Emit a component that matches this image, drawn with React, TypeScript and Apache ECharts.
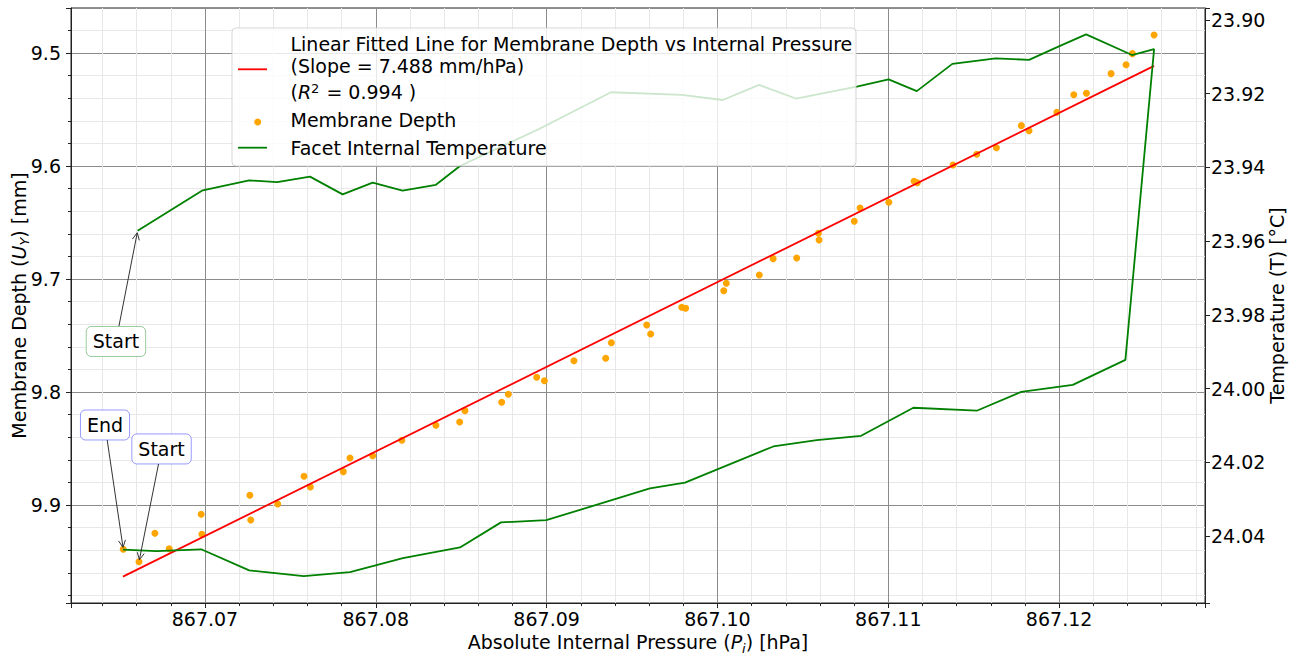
import React, { useEffect, useRef } from "react";
import * as echarts from "echarts";

// ---- Data ----
// Membrane depth scatter (pressure [hPa], depth [mm])
const depthPressure = [
  867.06522, 867.06614, 867.06707, 867.06791, 867.06978, 867.06982, 867.07263, 867.07268,
  867.07426, 867.0758, 867.07617, 867.0781, 867.07849, 867.07982, 867.08153, 867.08352,
  867.08491, 867.08522, 867.08737, 867.08776, 867.08942, 867.08987, 867.0916, 867.09346,
  867.09379, 867.09586, 867.09609, 867.09791, 867.09814, 867.10037, 867.10052, 867.10245,
  867.10326, 867.10464, 867.10591, 867.10595, 867.10801, 867.10835, 867.11003, 867.11151,
  867.1117, 867.11379, 867.11518, 867.11633, 867.11779, 867.11824, 867.11987, 867.12086,
  867.1216, 867.12304, 867.12392, 867.12429, 867.12556,
];
const depthValues = [
  9.9392, 9.9502, 9.925, 9.9387, 9.9082, 9.9259, 9.8914, 9.9133,
  9.8991, 9.8746, 9.8841, 9.8705, 9.8584, 9.8564, 9.8427, 9.8295,
  9.8265, 9.8165, 9.8091, 9.802, 9.787, 9.79, 9.7723, 9.7702,
  9.7564, 9.7407, 9.7487, 9.725, 9.7259, 9.7104, 9.7038, 9.6965,
  9.682, 9.6814, 9.6596, 9.6655, 9.6489, 9.6372, 9.6321, 9.6135,
  9.6148, 9.5991, 9.5896, 9.5838, 9.5643, 9.5688, 9.5525, 9.5369,
  9.5357, 9.5183, 9.5104, 9.5006, 9.4841,
];
const depthEndIndex = 0;
const depthStartIndex = 1;

// Linear fit end points
const fitPressure = [867.0652, 867.12556];
const fitDepth = [9.9634, 9.5114];

// Facet internal temperature (in time order)
const tempPressure = [
  867.06606, 867.06987, 867.07259, 867.07423, 867.07615, 867.07806, 867.07982, 867.08157,
  867.08352, 867.08493, 867.0895, 867.09377, 867.09791, 867.10031, 867.10244, 867.1046,
  867.10816, 867.11002, 867.11167, 867.11375, 867.11629, 867.11824, 867.12002, 867.12158,
  867.12427, 867.12556,
  867.12388, 867.1208, 867.11778, 867.11518, 867.11147, 867.10841, 867.10581, 867.10327,
  867.0981, 867.09605, 867.08998, 867.08733, 867.08493, 867.08159, 867.07849, 867.07578,
  867.07259, 867.06978, 867.06717, 867.0652,
];
const tempValues = [
  23.9572, 23.9462, 23.9435, 23.944, 23.9425, 23.9473, 23.9441, 23.9463,
  23.9447, 23.9396, 23.9297, 23.9196, 23.9203, 23.9217, 23.9176, 23.9213,
  23.9181, 23.9161, 23.9193, 23.9119, 23.9104, 23.9108, 23.9071, 23.9039,
  23.9095, 23.9079,
  23.9922, 23.999, 24.0009, 24.006, 24.0052, 24.0128, 24.014, 24.0157,
  24.0255, 24.0271, 24.0357, 24.0363, 24.0431, 24.046, 24.0498, 24.0509,
  24.0493, 24.0436, 24.0441, 24.0437,
];

const legendLines = [
  "Linear Fitted Line for Membrane Depth vs Internal Pressure",
  "(Slope = 7.488 mm/hPa)",
];
const legendR2 = "0.994";

const FONT = "DejaVu Sans";
const FS = 19;

function isMultiple(v: number, step: number) {
  const r = v / step;
  return Math.abs(r - Math.round(r)) < 1e-6;
}

function measure(text: string, size: number) {
  const c = document.createElement("canvas").getContext("2d")!;
  c.font = `${size}px "${FONT}"`;
  return c.measureText(text).width;
}

export default function App() {
  const ref = useRef<HTMLDivElement>(null);

  useEffect(() => {
    const chart = echarts.init(ref.current!, null, { renderer: "svg" });
    const scatterData = depthPressure.map((p, i) => [p, depthValues[i]]);
    const fitData = fitPressure.map((p, i) => [p, fitDepth[i]]);
    const tempData = tempPressure.map((p, i) => [p, tempValues[i]]);

    const labelBase = { fontFamily: FONT, fontSize: FS, color: "#000" };
    const richBase = {
      n: { fontFamily: FONT, fontSize: FS, color: "#000", verticalAlign: "top" },
      i: { fontFamily: FONT, fontSize: FS, color: "#000", fontStyle: "italic", verticalAlign: "top" },
      s: { fontFamily: FONT, fontSize: 13, color: "#000", fontStyle: "italic", verticalAlign: "top", padding: [9, 0, 0, 0] },
    };

    chart.setOption({
      animation: false,
      backgroundColor: "#ffffff",
      grid: {
        left: 71, right: 90, top: 8, bottom: 54,
        containLabel: false,
        outerBoundsMode: "none",
        show: true, borderColor: "#222", borderWidth: 1, backgroundColor: "transparent",
      },
      xAxis: {
        type: "value",
        min: 867.06216,
        max: 867.12854,
        splitNumber: 5,
        axisLine: { show: true, lineStyle: { color: "#222", width: 1 } },
        axisTick: { show: true, length: 5, lineStyle: { color: "#222" } },
        minorTick: { show: true, splitNumber: 5, length: 3, lineStyle: { color: "#222" } },
        splitLine: { show: true, lineStyle: { color: "#8c8c8c", width: 1 } },
        minorSplitLine: { show: true, lineStyle: { color: "#e8e8e8", width: 1 } },
        axisLabel: {
          ...labelBase,
          margin: 6,
          formatter: (v: number) => (isMultiple(v, 0.01) ? v.toFixed(2) : ""),
        },
        name: "{n|Absolute Internal Pressure (}{i|P}{s|i}{n|) [hPa]}",
        nameLocation: "middle",
        nameGap: 28,
        nameTextStyle: { rich: richBase },
      },
      yAxis: [
        {
          type: "value",
          inverse: true,
          min: 9.4602,
          max: 9.98673,
          splitNumber: 5,
          position: "left",
          axisLine: { show: true, lineStyle: { color: "#222", width: 1 } },
          axisTick: { show: true, length: 5, lineStyle: { color: "#222" } },
          minorTick: { show: true, splitNumber: 5, length: 3, lineStyle: { color: "#222" } },
          splitLine: { show: true, lineStyle: { color: "#8c8c8c", width: 1 } },
          minorSplitLine: { show: true, lineStyle: { color: "#e8e8e8", width: 1 } },
          axisLabel: {
            ...labelBase,
            margin: 10,
            formatter: (v: number) => (isMultiple(v, 0.1) ? v.toFixed(1) : ""),
          },
          name: "{n|Membrane Depth (}{i|U}{s|Y}{n|) [mm]}",
          nameLocation: "middle",
          nameRotate: 90,
          nameGap: 40,
          nameMoveOverlap: false,
          nameTextStyle: { rich: richBase },
        },
        {
          type: "value",
          inverse: true,
          min: 23.89674,
          max: 24.05817,
          splitNumber: 8,
          position: "right",
          axisLine: { show: true, lineStyle: { color: "#222", width: 1 } },
          axisTick: { show: true, length: 5, lineStyle: { color: "#222" } },
          minorTick: { show: false },
          splitLine: { show: false },
          axisLabel: {
            ...labelBase,
            margin: 6,
            formatter: (v: number) => (isMultiple(v, 0.02) ? v.toFixed(2) : ""),
          },
          name: "Temperature (T) [°C]",
          nameLocation: "middle",
          nameRotate: 90,
          nameGap: 62,
          nameMoveOverlap: false,
          nameTextStyle: { fontFamily: FONT, fontSize: FS, color: "#000" },
        },
      ],
      series: [
        {
          name: "Membrane Depth",
          type: "scatter",
          xAxisIndex: 0,
          yAxisIndex: 0,
          data: scatterData,
          symbol: "circle",
          symbolSize: 7,
          itemStyle: { color: "#ffa500", opacity: 1 },
          z: 3,
        },
        {
          name: "Linear Fitted Line",
          type: "line",
          xAxisIndex: 0,
          yAxisIndex: 0,
          data: fitData,
          showSymbol: false,
          symbol: "none",
          lineStyle: { color: "#ff0000", width: 1.8 },
          z: 4,
        },
        {
          name: "Facet Internal Temperature",
          type: "line",
          xAxisIndex: 0,
          yAxisIndex: 1,
          data: tempData,
          showSymbol: false,
          symbol: "none",
          lineStyle: { color: "#008000", width: 1.8 },
          z: 5,
        },
      ],
    });

    // ---- Legend + annotations (graphic) ----
    const Z = 100;
    const legendX = 232, legendY = 28, legendW = 624, legendH = 138;
    const textX = 290.5;
    const graphics: any[] = [
      {
        type: "rect", z: Z,
        shape: { x: legendX, y: legendY, width: legendW, height: legendH, r: 4 },
        style: { fill: "rgba(255,255,255,0.8)", stroke: "rgba(204,204,204,0.8)", lineWidth: 1 },
      },
      { type: "line", z: Z + 1, shape: { x1: 238, y1: 69.3, x2: 267, y2: 69.3 }, style: { stroke: "#ff0000", lineWidth: 1.8 } },
      { type: "circle", z: Z + 1, shape: { cx: 257.7, cy: 122, r: 3.5 }, style: { fill: "#ffa500" } },
      { type: "line", z: Z + 1, shape: { x1: 238, y1: 147.7, x2: 267, y2: 147.7 }, style: { stroke: "#008000", lineWidth: 1.8 } },
      {
        type: "text", z: Z + 1, x: textX, y: 44,
        style: { text: legendLines[0], font: `${FS}px "${FONT}"`, fill: "#000", verticalAlign: "middle" },
      },
      {
        type: "text", z: Z + 1, x: textX, y: 65.5,
        style: { text: legendLines[1], font: `${FS}px "${FONT}"`, fill: "#000", verticalAlign: "middle" },
      },
      {
        type: "text", z: Z + 1, x: textX, y: 91.5,
        style: {
          text: `{n|(}{i|R}{p|2}{n| = ${legendR2} )}`,
          verticalAlign: "middle",
          rich: {
            n: { fontFamily: FONT, fontSize: FS, fill: "#000", verticalAlign: "bottom" },
            i: { fontFamily: FONT, fontSize: FS, fill: "#000", fontStyle: "italic", verticalAlign: "bottom" },
            p: { fontFamily: FONT, fontSize: 13, fill: "#000", verticalAlign: "top", padding: [0, 1, 0, 0] },
          },
        },
      },
      {
        type: "text", z: Z + 1, x: textX, y: 119.5,
        style: { text: "Membrane Depth", font: `${FS}px "${FONT}"`, fill: "#000", verticalAlign: "middle" },
      },
      {
        type: "text", z: Z + 1, x: textX, y: 148,
        style: { text: "Facet Internal Temperature", font: `${FS}px "${FONT}"`, fill: "#000", verticalAlign: "middle" },
      },
    ];

    const annotations = [
      {
        text: "Start", border: "rgba(0,128,0,0.4)", seriesIndex: 2,
        target: [tempPressure[0], tempValues[0]], box: [867.06479, 9.7553],
      },
      {
        text: "End", border: "rgba(0,0,255,0.4)", seriesIndex: 0,
        target: [depthPressure[depthEndIndex], depthValues[depthEndIndex]], box: [867.06415, 9.8292],
      },
      {
        text: "Start", border: "rgba(0,0,255,0.4)", seriesIndex: 0,
        target: [depthPressure[depthStartIndex], depthValues[depthStartIndex]], box: [867.06746, 9.8504],
      },
    ];

    const padX = 6.5, boxH = 30;
    annotations.forEach((a) => {
      const t = chart.convertToPixel({ seriesIndex: a.seriesIndex }, a.target) as number[];
      const c = chart.convertToPixel({ seriesIndex: 0 }, a.box) as number[];
      const w = measure(a.text, FS) + 2 * padX;
      const hw = w / 2, hh = boxH / 2;
      const dx = t[0] - c[0], dy = t[1] - c[1];
      const len = Math.hypot(dx, dy);
      const ux = dx / len, uy = dy / len;
      const tx = Math.abs(dx) > 1e-9 ? hw / Math.abs(dx) : Infinity;
      const ty = Math.abs(dy) > 1e-9 ? hh / Math.abs(dy) : Infinity;
      const k = Math.min(tx, ty);
      const sx = c[0] + dx * k, sy = c[1] + dy * k;
      const ex = t[0] - ux * 2, ey = t[1] - uy * 2;
      const L = 7, W = 3.5;
      const nx = -uy, ny = ux;
      graphics.push(
        { type: "line", z: Z + 2, shape: { x1: sx, y1: sy, x2: ex, y2: ey }, style: { stroke: "#333", lineWidth: 1 } },
        {
          type: "polyline", z: Z + 2,
          shape: { points: [[ex - ux * L + nx * W, ey - uy * L + ny * W], [ex, ey], [ex - ux * L - nx * W, ey - uy * L - ny * W]] },
          style: { stroke: "#333", lineWidth: 1, fill: "none" },
        },
        {
          type: "rect", z: Z + 2,
          shape: { x: c[0] - hw, y: c[1] - hh, width: w, height: boxH, r: 5 },
          style: { fill: "#fff", stroke: a.border, lineWidth: 1 },
        },
        {
          type: "text", z: Z + 3, x: c[0], y: c[1],
          style: { text: a.text, font: `${FS}px "${FONT}"`, fill: "#000", align: "center", verticalAlign: "middle" },
        }
      );
    });

    chart.setOption({ graphic: { elements: graphics } });

    return () => chart.dispose();
  }, []);

  return (
    <div
      ref={ref}
      style={{ position: "absolute", left: 0, top: 0, width: 1295, height: 657, background: "#fff" }}
    />
  );
}
